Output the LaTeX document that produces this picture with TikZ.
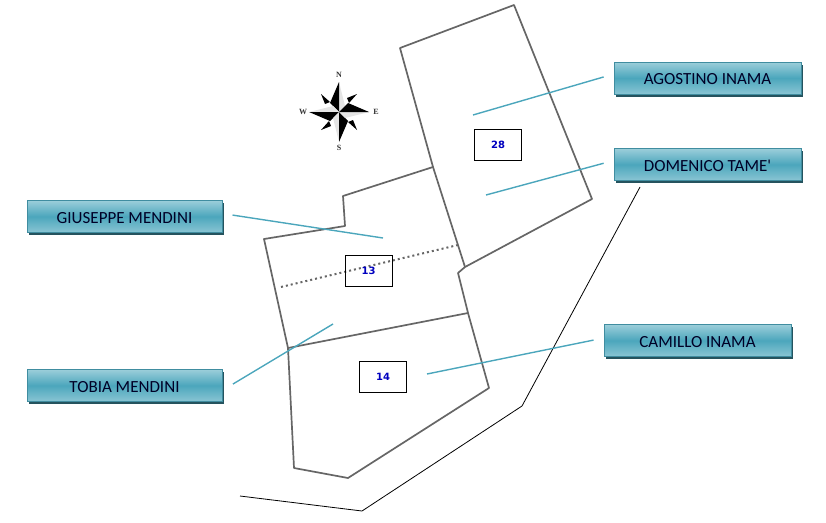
\documentclass[tikz,border=0pt]{standalone}
\usepackage{fontspec}
\setmainfont{Carlito}[Ligatures=TeXOff]
\newfontfamily\numfont{DejaVu Sans}
\newfontfamily\rosefont{Liberation Serif}
\usetikzlibrary{shadows}
\definecolor{lead}{HTML}{4BA6BC}
\definecolor{parcel}{HTML}{666666}
\begin{document}
\begin{tikzpicture}[x=1pt,y=-1pt,
    owner/.style={rectangle,draw=lead!85!black,thin,top color=lead!55!white,bottom color=lead!65!white,middle color=lead,
        minimum width=187pt,minimum height=32pt,inner sep=0pt,font=\fontsize{17}{19}\selectfont,text=black!85!blue,
        text height=13pt,text depth=0pt,
        drop shadow={shadow xshift=1.5pt,shadow yshift=-2.5pt,fill=lead!50!black,opacity=1}},
    num/.style={rectangle,draw=black,fill=white,thin,minimum width=47pt,minimum height=31pt,inner sep=0pt,
        font=\numfont\bfseries\fontsize{10}{12}\selectfont,text=blue!75!black},
    border/.style={draw=parcel,line width=1.7pt,line join=round},
    leader/.style={draw=lead,line width=1.4pt,shorten <=10.5pt},
    road/.style={draw=black,line width=0.8pt},
    rose/.style={font=\rosefont\bfseries\fontsize{8}{9}\selectfont,inner sep=0pt,text=black!80}]
    \useasboundingbox (0,0) rectangle (826,522);

    % parcels
    \draw [border] (400,48) -- (514,5) -- (592,199) -- (465,267) -- (458,273) -- (468,313) -- (489,388) -- (348,478) -- (294,468) -- (288,348) -- (264,239) -- (345,226) -- (343,196) -- (433,167) -- cycle;
    \draw [border] (433,167) -- (465,267);
    \draw [border] (288,348) -- (468,313);
    \draw [draw=parcel,line width=2pt,dash pattern=on 2pt off 3pt] (281,287) -- (458,245);

    % road
    \draw [road] (240,496) -- (362,511) -- (522,406) -- (640,187);

    % numbers
    \node[num] (n28) at (498,144.5) {28};
    \node[num,fill=none] (n13) at (368.5,271) {13};
    \node[num] (n14) at (383,376.5) {14};

    % owners
    \node[owner] (agostino) at (707.5,78) {AGOSTINO INAMA};
    \node[owner] (domenico) at (707.5,164.5) {DOMENICO TAME'};
    \node[owner,minimum width=195pt] (giuseppe) at (124.5,216.5) {GIUSEPPE MENDINI};
    \node[owner,minimum width=195pt] (tobia) at (124.5,385.5) {TOBIA MENDINI};
    \node[owner] (camillo) at (697.5,340.5) {CAMILLO INAMA};

    \coordinate (a1) at (473,115);
    \coordinate (d1) at (486,195);
    \coordinate (g1) at (383,238);
    \coordinate (t1) at (333,324);
    \coordinate (c1) at (427,374);
    \draw [leader] ([yshift=4pt]agostino.west) -- (a1);
    \draw [leader] ([yshift=4pt]domenico.west) -- (d1);
    \draw [leader] ([yshift=3pt]giuseppe.east) -- (g1);
    \draw [leader,shorten <=12.5pt] ([yshift=-5pt]tobia.east) -- (t1);
    \draw [leader] ([yshift=2.5pt]camillo.west) -- (c1);

    % compass
    \begin{scope}[shift={(339,112)}]
        \foreach \a in {0,90,180,270} {
            \begin{scope}[rotate=\a]
                \fill [black!10] (0,0) -- (0,-30) -- (6,-6) -- cycle;
                \fill [black] (0,0) -- (0,-30) -- (-9,-9) -- cycle;
                \fill [black] (-18,-18) -- (-14,-8) -- (-9,-10) -- cycle;
            \end{scope}
        }
    \end{scope}
    \node[rose] (north) at (339,75) {N};
    \node[rose] (south) at (339,148) {S};
    \node[rose] (west) at (303,112) {W};
    \node[rose] (east) at (376,112) {E};
\end{tikzpicture}
\end{document}
